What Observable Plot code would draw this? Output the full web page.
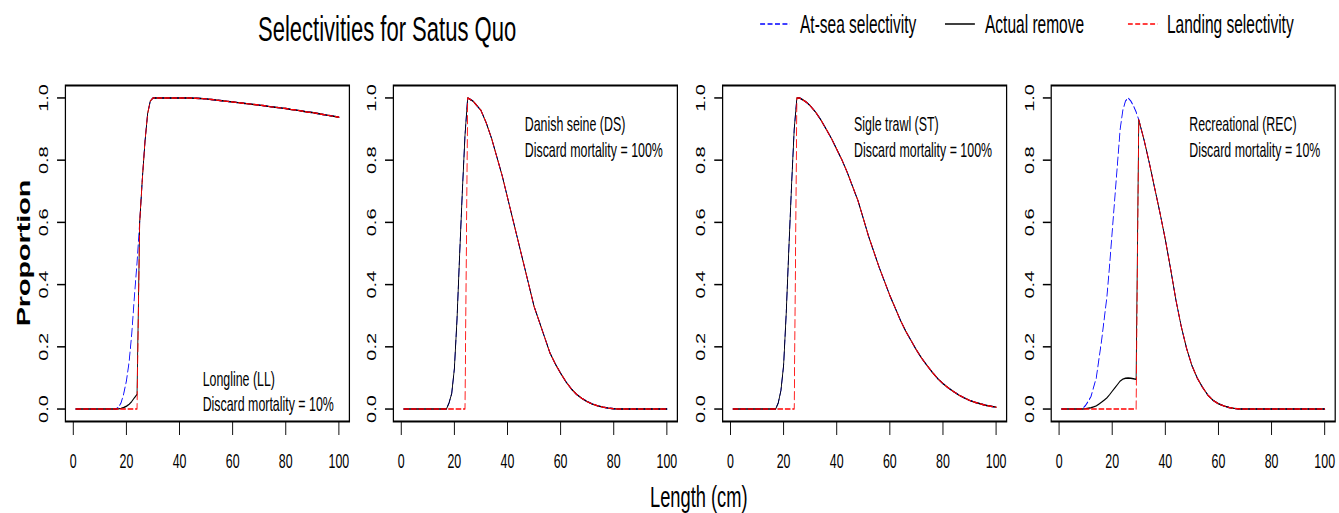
<!DOCTYPE html>
<html>
<head>
<meta charset="utf-8">
<script src="https://cdn.jsdelivr.net/npm/d3@7"></script>
<script src="https://cdn.jsdelivr.net/npm/@observablehq/plot@0.6"></script>
<style>
  html, body { margin: 0; padding: 0; background: #fff; overflow: hidden; width: 1339px; height: 513px; }
  #wrap { position: absolute; left: 0; top: 0; width: 2160px; height: 513px;
          transform: scaleX(0.62); transform-origin: 0 0;
          font-family: "Liberation Sans", Arial, sans-serif; color: #000; }
  .abs { position: absolute; white-space: nowrap; line-height: 1; }
</style>
</head>
<body>
<div id="wrap"></div>
<script>
// ---------------- DATA ----------------
const lengths = [1,2,3,4,5,6,7,8,9,10,11,12,13,14,15,16,17,18,19,20,21,22,23,24,25,26,27,28,29,30,
  32,34,36,38,40,42,44,46,48,50,52,54,56,58,60,62,64,66,68,70,72,74,76,78,80,82,84,86,88,90,92,94,96,98,100];

const seriesNames = ["At-sea selectivity", "Actual remove", "Landing selectivity"];
const fleetNames = ["Longline (LL)", "Danish seine (DS)", "Sigle trawl (ST)", "Recreational (REC)"];
const discardLabels = ["Discard mortality = 10%", "Discard mortality = 100%", "Discard mortality = 100%", "Discard mortality = 10%"];
const xTicks = [0, 20, 40, 60, 80, 100];
const yTicks = [0, 0.2, 0.4, 0.6, 0.8, 1.0];
const titleText = "Selectivities for Satus Quo";
const xLabel = "Length (cm)";
const yLabel = "Proportion";

// Longline
const llAtSea = [0,0,0,0,0,0,0,0,0,0,0,0,0,0,0,0,0.005,0.02,0.05,0.09,0.15,0.24,0.36,0.47,0.6,0.74,0.86,0.95,0.99,1.0,
  1.0,1.0,1.0,1.0,1.0,1.0,1.0,0.999,0.998,0.997,0.995,0.993,0.991,0.989,0.987,0.985,0.983,0.981,0.979,0.977,
  0.975,0.972,0.97,0.968,0.966,0.963,0.961,0.958,0.955,0.953,0.95,0.947,0.944,0.941,0.938];
const llRemove = [0,0,0,0,0,0,0,0,0,0,0,0,0,0,0,0,0.0005,0.002,0.005,0.009,0.015,0.024,0.036,0.047,0.6,0.74,0.86,0.95,0.99,1.0,
  1.0,1.0,1.0,1.0,1.0,1.0,1.0,0.999,0.998,0.997,0.995,0.993,0.991,0.989,0.987,0.985,0.983,0.981,0.979,0.977,
  0.975,0.972,0.97,0.968,0.966,0.963,0.961,0.958,0.955,0.953,0.95,0.947,0.944,0.941,0.938];
const llLanding = [0,0,0,0,0,0,0,0,0,0,0,0,0,0,0,0,0,0,0,0,0,0,0,0,0.6,0.74,0.86,0.95,0.99,1.0,
  1.0,1.0,1.0,1.0,1.0,1.0,1.0,0.999,0.998,0.997,0.995,0.993,0.991,0.989,0.987,0.985,0.983,0.981,0.979,0.977,
  0.975,0.972,0.97,0.968,0.966,0.963,0.961,0.958,0.955,0.953,0.95,0.947,0.944,0.941,0.938];

// Danish seine
const dsAtSea = [0,0,0,0,0,0,0,0,0,0,0,0,0,0,0,0,0,0.02,0.05,0.13,0.29,0.5,0.7,0.88,1.0,0.995,0.99,0.98,0.97,0.96,
  0.92,0.87,0.81,0.75,0.68,0.61,0.54,0.47,0.4,0.33,0.28,0.23,0.18,0.145,0.115,0.088,0.065,0.047,0.034,0.024,
  0.016,0.01,0.006,0.003,0.001,0,0,0,0,0,0,0,0,0,0];
const dsRemove = [0,0,0,0,0,0,0,0,0,0,0,0,0,0,0,0,0,0.02,0.05,0.13,0.29,0.5,0.7,0.88,1.0,0.995,0.99,0.98,0.97,0.96,
  0.92,0.87,0.81,0.75,0.68,0.61,0.54,0.47,0.4,0.33,0.28,0.23,0.18,0.145,0.115,0.088,0.065,0.047,0.034,0.024,
  0.016,0.01,0.006,0.003,0.001,0,0,0,0,0,0,0,0,0,0];
const dsLanding = [0,0,0,0,0,0,0,0,0,0,0,0,0,0,0,0,0,0,0,0,0,0,0,0,1.0,0.995,0.99,0.98,0.97,0.96,
  0.92,0.87,0.81,0.75,0.68,0.61,0.54,0.47,0.4,0.33,0.28,0.23,0.18,0.145,0.115,0.088,0.065,0.047,0.034,0.024,
  0.016,0.01,0.006,0.003,0.001,0,0,0,0,0,0,0,0,0,0];

// Single trawl
const stAtSea = [0,0,0,0,0,0,0,0,0,0,0,0,0,0,0,0,0,0.02,0.06,0.14,0.31,0.52,0.72,0.9,1.0,1.0,0.995,0.99,0.983,0.975,
  0.955,0.93,0.9,0.87,0.835,0.8,0.76,0.715,0.67,0.613,0.555,0.505,0.455,0.41,0.365,0.325,0.285,0.25,0.22,0.19,
  0.163,0.14,0.118,0.098,0.082,0.068,0.056,0.045,0.036,0.028,0.022,0.017,0.012,0.009,0.006];
const stRemove = [0,0,0,0,0,0,0,0,0,0,0,0,0,0,0,0,0,0.02,0.06,0.14,0.31,0.52,0.72,0.9,1.0,1.0,0.995,0.99,0.983,0.975,
  0.955,0.93,0.9,0.87,0.835,0.8,0.76,0.715,0.67,0.613,0.555,0.505,0.455,0.41,0.365,0.325,0.285,0.25,0.22,0.19,
  0.163,0.14,0.118,0.098,0.082,0.068,0.056,0.045,0.036,0.028,0.022,0.017,0.012,0.009,0.006];
const stLanding = [0,0,0,0,0,0,0,0,0,0,0,0,0,0,0,0,0,0,0,0,0,0,0,0,1.0,1.0,0.995,0.99,0.983,0.975,
  0.955,0.93,0.9,0.87,0.835,0.8,0.76,0.715,0.67,0.613,0.555,0.505,0.455,0.41,0.365,0.325,0.285,0.25,0.22,0.19,
  0.163,0.14,0.118,0.098,0.082,0.068,0.056,0.045,0.036,0.028,0.022,0.017,0.012,0.009,0.006];

// Recreational
const recAtSea = [0,0,0,0,0,0,0,0,0.003,0.012,0.025,0.04,0.07,0.1,0.16,0.22,0.29,0.36,0.46,0.57,0.68,0.79,0.9,0.96,0.99,1.0,0.99,0.975,0.955,0.93,
  0.865,0.79,0.71,0.63,0.545,0.45,0.35,0.265,0.195,0.14,0.1,0.07,0.045,0.028,0.017,0.01,0.005,0.002,0,0,
  0,0,0,0,0,0,0,0,0,0,0,0,0,0,0];
const recRemove = [0,0,0,0,0,0,0,0,0.0003,0.0012,0.0025,0.004,0.007,0.01,0.016,0.022,0.029,0.036,0.046,0.057,0.068,0.079,0.09,0.096,0.099,0.1,0.099,0.0975,0.0955,0.93,
  0.865,0.79,0.71,0.63,0.545,0.45,0.35,0.265,0.195,0.14,0.1,0.07,0.045,0.028,0.017,0.01,0.005,0.002,0,0,
  0,0,0,0,0,0,0,0,0,0,0,0,0,0,0];
const recLanding = [0,0,0,0,0,0,0,0,0,0,0,0,0,0,0,0,0,0,0,0,0,0,0,0,0,0,0,0,0,0.93,
  0.865,0.79,0.71,0.63,0.545,0.45,0.35,0.265,0.195,0.14,0.1,0.07,0.045,0.028,0.017,0.01,0.005,0.002,0,0,
  0,0,0,0,0,0,0,0,0,0,0,0,0,0,0];

const panelSeries = [
  [llAtSea, llRemove, llLanding],
  [dsAtSea, dsRemove, dsLanding],
  [stAtSea, stRemove, stLanding],
  [recAtSea, recRemove, recLanding]
];

// ---------------- LAYOUT (screen px of the final picture) ----------------
const S = 0.62;                       // horizontal condensation of the reference
const FONT = '"Liberation Sans", Arial, sans-serif';
const boxLeftPx = [65, 393, 722, 1051];
const boxWidthPx = 284;
const mL = 70, mT = 25, mB = 60, boxH = 336;
const noteAt = [
  {x: 48.7, y1: 0.0945, y2: 0.0142},
  {x: 46.5, y1: 0.914, y2: 0.830},
  {x: 46.5, y1: 0.914, y2: 0.830},
  {x: 49.0, y1: 0.914, y2: 0.830}
];
const colors = ["blue", "black", "red"];
const dashes = ["8,4", null, "8,4"];

const wrap = document.getElementById("wrap");

for (let p = 0; p < 4; p++) {
  const boxW = boxWidthPx / S;
  const marks = [Plot.frame({stroke: "black", strokeWidth: 2})];
  for (let s = 0; s < 3; s++) {
    const arr = panelSeries[p][s];
    const rows = lengths.map((L, j) => ({L, v: arr[j], series: seriesNames[s]}));
    const opts = {x: "L", y: "v", stroke: colors[s], strokeWidth: 1.4};
    if (dashes[s]) opts.strokeDasharray = dashes[s];
    marks.push(Plot.line(rows, opts));
  }
  marks.push(Plot.text([fleetNames[p]], {x: noteAt[p].x, y: noteAt[p].y1, text: d => d, textAnchor: "start", fontSize: 20, fill: "black"}));
  marks.push(Plot.text([discardLabels[p]], {x: noteAt[p].x, y: noteAt[p].y2, text: d => d, textAnchor: "start", fontSize: 20, fill: "black"}));
  marks.push(Plot.axisX({ticks: xTicks, tickSize: 14, tickPadding: 18, tickFormat: d => String(d), label: null, strokeWidth: 1.5}));
  marks.push(Plot.axisY({ticks: yTicks, tickSize: 13, tickPadding: 15.5, tickRotate: -90, tickFormat: d => d.toFixed(1), label: null, strokeWidth: 1.5}));

  const svg = Plot.plot({
    width: mL + boxW, height: mT + boxH + mB,
    marginLeft: mL, marginRight: 0, marginTop: mT, marginBottom: mB,
    style: {fontFamily: FONT, fontSize: "20px", color: "black", background: "transparent", overflow: "visible", maxWidth: "none"},
    x: {domain: [-2.96, 103.96], label: null},
    y: {domain: [-0.04, 1.04], label: null},
    marks
  });
  svg.style.position = "absolute";
  svg.style.left = (boxLeftPx[p] / S - mL) + "px";
  svg.style.top = (85 - mT) + "px";
  wrap.appendChild(svg);
}

// text helper: left/top in inner coords
function addText(txt, left, top, size, extra = {}) {
  const d = document.createElement("div");
  d.className = "abs";
  d.textContent = txt;
  d.style.left = left + "px";
  d.style.top = top + "px";
  d.style.fontSize = size + "px";
  Object.assign(d.style, extra);
  wrap.appendChild(d);
  return d;
}

// title
addText(titleText, 258 / S, 41.7 - 0.8465 * 35.5, 35.5);
// x label
addText(xLabel, 650 / S, 506.7 - 0.8465 * 29.5, 29.5);
// y label
addText(yLabel, 24.3 / S, 253.3, 28.7, {fontWeight: "bold", transform: "translate(-50%,-50%) rotate(-90deg)"});

// legend
const legLinePx = [760, 945, 1128];
const legTextPx = [800, 985, 1167];
const legBase = 33, legY = 24, legSize = 25;
for (let s = 0; s < 3; s++) {
  const ns = "http://www.w3.org/2000/svg";
  const sv = document.createElementNS(ns, "svg");
  sv.setAttribute("width", 30 / S);
  sv.setAttribute("height", 6);
  sv.style.position = "absolute";
  sv.style.left = (legLinePx[s] / S) + "px";
  sv.style.top = (legY - 3) + "px";
  const ln = document.createElementNS(ns, "line");
  ln.setAttribute("x1", 0); ln.setAttribute("x2", 30 / S);
  ln.setAttribute("y1", 3); ln.setAttribute("y2", 3);
  ln.setAttribute("stroke", colors[s]);
  ln.setAttribute("stroke-width", 1.6);
  if (dashes[s]) ln.setAttribute("stroke-dasharray", dashes[s]);
  sv.appendChild(ln);
  wrap.appendChild(sv);
  addText(seriesNames[s], legTextPx[s] / S, legBase - 0.8465 * legSize, legSize);
}
</script>
</body>
</html>
